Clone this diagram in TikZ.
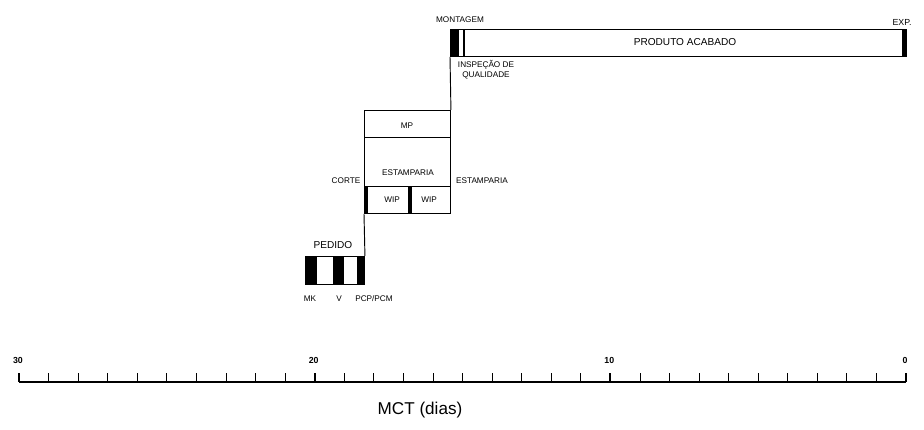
\documentclass[tikz,border=0pt]{standalone}
\usepackage{fontspec}
\setmainfont{Liberation Sans}
\usetikzlibrary{positioning}

\begin{document}
\begin{tikzpicture}[x=0.03cm, y=-0.03cm,
          box/.style={draw, line width=0.8pt, inner sep=0pt, anchor=north west},
          lbl/.style={inner sep=0pt, font=\fontsize{7}{8.5}\selectfont, align=center},
          big/.style={inner sep=0pt, font=\fontsize{8.6}{10}\selectfont},
          num/.style={inner sep=0pt, font=\fontsize{7.5}{9}\selectfont\bfseries},
          blk/.style={fill=black},
          link/.style={line width=0.8pt}]
        \useasboundingbox (0,0) rectangle (924,430);
        % produto acabado
        \node[box, minimum width=13.68cm, minimum height=0.81cm] (acabado) at (450,29) {};
        \fill[blk] (450,29) rectangle (459,56);
        \fill[blk] (463,29) rectangle (465,56);
        \fill[blk] (902,29) rectangle (906,56);
        \node[big] (pa) at (685,42) {PRODUTO ACABADO};
        \node[lbl] (mont) at (460,20) {MONTAGEM};
        \node[big, font=\fontsize{7.5}{9}\selectfont] (exp) at (902,22) {EXP.};
        \node[lbl] (insp) at (486,70) {INSPEÇÃO DE\\QUALIDADE};
        % MP e estamparia
        \node[box, minimum width=2.58cm, minimum height=0.81cm] (mp) at (364,110) {};
        \node[box, minimum width=2.58cm, minimum height=1.47cm] (estamp) at (364,137) {};
        \node[box, minimum width=1.35cm, minimum height=0.81cm] (wipA) at (364,186) {};
        \node[box, minimum width=1.23cm, minimum height=0.81cm] (wipB) at (409,186) {};
        \fill[blk] (364,186) rectangle (368,213);
        \fill[blk] (408,186) rectangle (412,213);
        \node[lbl] (tmp) at (407,126) {MP};
        \node[lbl] (test) at (408,173) {ESTAMPARIA};
        \node[lbl] (corte) at (346,181) {CORTE};
        \node[lbl] (estR) at (482,181) {ESTAMPARIA};
        \node[lbl] (twA) at (392,200) {WIP};
        \node[lbl] (twB) at (429,200) {WIP};
        \draw[link] (mp.north east) -- (acabado.south west);
        % pedido
        \node[box, minimum width=1.77cm, minimum height=0.84cm] (pedido) at (305,256) {};
        \fill[blk] (305,256) rectangle (317,284);
        \fill[blk] (333,256) rectangle (344,284);
        \fill[blk] (357,256) rectangle (364,284);
        \node[big] (tped) at (333,245) {PEDIDO};
        \node[lbl] (mk) at (310,299) {MK};
        \node[lbl] (v) at (339,299) {V};
        \node[lbl] (pcp) at (374,299) {PCP/PCM};
        \draw[link] (wipA.south west) -- (pedido.north east);
        % eixo MCT
        \draw[line width=1.2pt] (19,382) -- (906,382);
        \foreach \k in {0,...,30}{\draw[line width=0.7pt] ({19+\k*29.567},373) -- ({19+\k*29.567},382);}
        \foreach \v/\k in {30/0,20/10,10/20,0/30}{
          \draw[line width=1.8pt] ({19+\k*29.567},373) -- ({19+\k*29.567},382);
          \node[num] (n\v) at ({18+\k*29.567},360) {\v};}
        \node[inner sep=0pt, font=\fontsize{14.6}{16}\selectfont] (mct) at (420,410) {MCT (dias)};
      \end{tikzpicture}
\end{document}
